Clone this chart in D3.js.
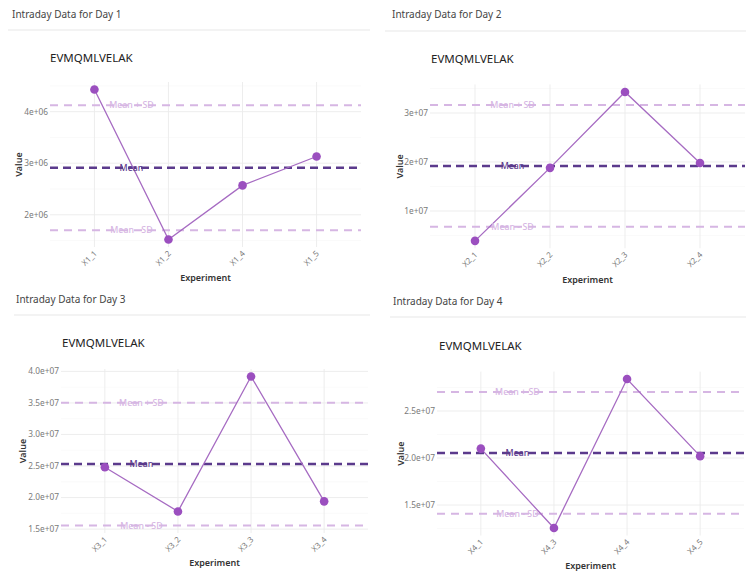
<!DOCTYPE html>
<html>
<head>
<meta charset="utf-8">
<script src="https://cdn.jsdelivr.net/npm/d3@7"></script>
<style>
    body { margin: 0; background: #fff; }
    svg text { font-family: "Noto Sans", "Open Sans", sans-serif; }
</style>
</head>
<body>
<div id="chart"></div>
<script>
// values
const peptide = "EVMQMLVELAK";
const dayTitles = ["Intraday Data for Day 1", "Intraday Data for Day 2", "Intraday Data for Day 3", "Intraday Data for Day 4"];

const day1Experiments = ["X1_1", "X1_2", "X1_4", "X1_5"];
const day1Values = [4.43e6, 1.52e6, 2.57e6, 3.13e6];
const day1Ticks = [2e6, 3e6, 4e6];

const day2Experiments = ["X2_1", "X2_2", "X2_3", "X2_4"];
const day2Values = [3.9e6, 1.88e7, 3.43e7, 1.98e7];
const day2Ticks = [1e7, 2e7, 3e7];

const day3Experiments = ["X3_1", "X3_2", "X3_3", "X3_4"];
const day3Values = [2.48e7, 1.78e7, 3.92e7, 1.94e7];
const day3Ticks = [1.5e7, 2.0e7, 2.5e7, 3.0e7, 3.5e7, 4.0e7];

const day4Experiments = ["X4_1", "X4_3", "X4_4", "X4_5"];
const day4Values = [2.10e7, 1.255e7, 2.84e7, 2.02e7];
const day4Ticks = [1.5e7, 2.0e7, 2.5e7];

const tickDigits = [0, 0, 1, 1];

// where each panel sits on the page
const panelLayout = [
    { titleX: 12, titleY: 18, sepY: 30, sepX: [8, 370], subX: 50, subY: 62, left: 50, right: 361, top: 82, bottom: 247, valueX: 19, expY: 281 },
    { titleX: 392, titleY: 18, sepY: 31, sepX: [385, 746], subX: 431, subY: 63, left: 430, right: 745, top: 84.5, bottom: 248.3, valueX: 400, expY: 283 },
    { titleX: 16, titleY: 303, sepY: 315, sepX: [14, 370], subX: 62, subY: 347, left: 61, right: 368, top: 369, bottom: 533, valueX: 23, expY: 566 },
    { titleX: 393, titleY: 305, sepY: 317, sepX: [390, 746], subX: 439, subY: 350, left: 437, right: 744, top: 371.6, bottom: 535.5, valueX: 401, expY: 569 }
];

const colors = {
    line: "#a66bc2",
    point: "#9b4fbf",
    mean: "#5b3a8c",
    sd: "#d6b6e3",
    grid: "#ebebeb",
    minorGrid: "#f4f4f4",
    tick: "#7a7a7a",
    axisTitle: "#333"
};

// ggplot style scientific labels: 4e+06, 2.5e+07
function sciFormat(digits) {
    return v => v.toExponential(digits).replace(/e([+-])(\d)$/, "e$10$2");
}

class DayChart {
    constructor(svg, title, experiments, values, ticks, digits, layout) {
        this.svg = svg;
        this.title = title;
        this.experiments = experiments;
        this.values = values;
        this.ticks = ticks;
        this.digits = digits;
        this.layout = layout;
        this.initVis();
    }

    initVis() {
        let vis = this;
        let L = vis.layout;

        vis.mean = d3.mean(vis.values);
        vis.sd = d3.deviation(vis.values);

        // heading + faint separator
        vis.svg.append("text")
            .attr("x", L.titleX).attr("y", L.titleY)
            .attr("font-size", 10).attr("fill", "#444")
            .text(vis.title);

        vis.svg.append("line")
            .attr("x1", L.sepX[0]).attr("x2", L.sepX[1])
            .attr("y1", L.sepY).attr("y2", L.sepY)
            .attr("stroke", "#f3f3f3").attr("stroke-width", 2);

        vis.svg.append("text")
            .attr("x", L.subX).attr("y", L.subY)
            .attr("font-size", 11.5).attr("fill", "#222")
            .text(peptide);

        // scales, domain like ggplot (data + hlines, 5% expansion)
        let ext = d3.extent(vis.values.concat([vis.mean + vis.sd, vis.mean - vis.sd]));
        let pad = (ext[1] - ext[0]) * 0.05;

        vis.x = d3.scalePoint()
            .domain(vis.experiments)
            .range([L.left, L.right])
            .padding(0.6);

        vis.y = d3.scaleLinear()
            .domain([ext[0] - pad, ext[1] + pad])
            .range([L.bottom, L.top]);

        let g = vis.svg.append("g");

        // minor grid at half steps
        let step = vis.ticks.length > 1 ? vis.ticks[1] - vis.ticks[0] : 1;
        let minor = d3.range(vis.ticks[0] - step / 2, vis.ticks[vis.ticks.length - 1] + step, step)
            .filter(v => vis.y(v) >= L.top && vis.y(v) <= L.bottom);
        g.selectAll(".minor")
            .data(minor)
            .enter().append("line")
            .attr("x1", L.left).attr("x2", L.right)
            .attr("y1", d => vis.y(d)).attr("y2", d => vis.y(d))
            .attr("stroke", colors.minorGrid).attr("stroke-width", 0.5);

        // major grid
        g.selectAll(".hgrid")
            .data(vis.ticks)
            .enter().append("line")
            .attr("x1", L.left).attr("x2", L.right)
            .attr("y1", d => vis.y(d)).attr("y2", d => vis.y(d))
            .attr("stroke", colors.grid).attr("stroke-width", 0.9);

        g.selectAll(".vgrid")
            .data(vis.experiments)
            .enter().append("line")
            .attr("x1", d => vis.x(d)).attr("x2", d => vis.x(d))
            .attr("y1", L.top).attr("y2", L.bottom)
            .attr("stroke", colors.grid).attr("stroke-width", 0.9);

        // y axis labels
        let fmt = sciFormat(vis.digits);
        g.selectAll(".ytick")
            .data(vis.ticks)
            .enter().append("text")
            .attr("x", L.left - 2)
            .attr("y", d => vis.y(d))
            .attr("dy", "0.35em")
            .attr("text-anchor", "end")
            .attr("font-size", 8.3)
            .attr("fill", colors.tick)
            .text(fmt);

        // x axis labels, rotated
        g.selectAll(".xtick")
            .data(vis.experiments)
            .enter().append("text")
            .attr("transform", d => `translate(${vis.x(d) + 3}, ${L.bottom + 7}) rotate(-45)`)
            .attr("text-anchor", "end")
            .attr("font-size", 8)
            .attr("fill", colors.tick)
            .text(d => d);

        // axis titles
        g.append("text")
            .attr("x", (L.left + L.right) / 2).attr("y", L.expY)
            .attr("text-anchor", "middle")
            .attr("font-size", 9).attr("font-weight", 600)
            .attr("fill", colors.axisTitle)
            .text("Experiment");

        g.append("text")
            .attr("transform", `translate(${L.valueX + 3}, ${(L.top + L.bottom) / 2}) rotate(-90)`)
            .attr("text-anchor", "middle")
            .attr("font-size", 9).attr("font-weight", 600)
            .attr("fill", colors.axisTitle)
            .text("Value");

        // reference lines
        let refs = [
            { value: vis.mean + vis.sd, label: "Mean + SD", color: colors.sd, width: 2, dash: "8,6" },
            { value: vis.mean, label: "Mean", color: colors.mean, width: 2.5, dash: "8,5" },
            { value: vis.mean - vis.sd, label: "Mean - SD", color: colors.sd, width: 2, dash: "8,6" }
        ];

        g.selectAll(".ref")
            .data(refs)
            .enter().append("line")
            .attr("x1", L.left).attr("x2", L.right)
            .attr("y1", d => vis.y(d.value)).attr("y2", d => vis.y(d.value))
            .attr("stroke", d => d.color)
            .attr("stroke-width", d => d.width)
            .attr("stroke-dasharray", d => d.dash);

        // series
        let line = d3.line()
            .x((d, i) => vis.x(vis.experiments[i]))
            .y(d => vis.y(d));

        g.append("path")
            .datum(vis.values)
            .attr("d", line)
            .attr("fill", "none")
            .attr("stroke", colors.line)
            .attr("stroke-width", 1.3);

        g.selectAll(".pt")
            .data(vis.values)
            .enter().append("circle")
            .attr("cx", (d, i) => vis.x(vis.experiments[i]))
            .attr("cy", d => vis.y(d))
            .attr("r", 4.3)
            .attr("fill", colors.point);

        // labels sit between the first two experiments
        let labelX = (vis.x(vis.experiments[0]) + vis.x(vis.experiments[1])) / 2;
        g.selectAll(".refLabel")
            .data(refs)
            .enter().append("text")
            .attr("x", labelX)
            .attr("y", d => vis.y(d.value))
            .attr("dy", "0.35em")
            .attr("text-anchor", "middle")
            .attr("font-size", 8.8)
            .attr("font-weight", 500)
            .attr("fill", d => d.color)
            .text(d => d.label);
    }
}

let svg = d3.select("#chart").append("svg")
    .attr("width", 746)
    .attr("height", 573);

let days = [
    [day1Experiments, day1Values, day1Ticks],
    [day2Experiments, day2Values, day2Ticks],
    [day3Experiments, day3Values, day3Ticks],
    [day4Experiments, day4Values, day4Ticks]
];

days.forEach((d, i) => {
    new DayChart(svg.append("g"), dayTitles[i], d[0], d[1], d[2], tickDigits[i], panelLayout[i]);
});
</script>
</body>
</html>
